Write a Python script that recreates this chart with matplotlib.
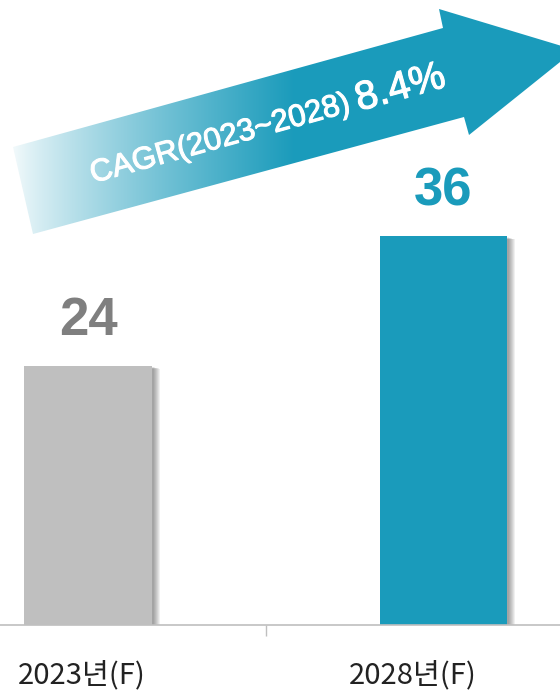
import numpy as np
import matplotlib
matplotlib.use("Agg")
import matplotlib.pyplot as plt
import matplotlib.transforms as mtransforms
import matplotlib.patheffects as pe
from matplotlib.patches import Polygon, Rectangle
from matplotlib.colors import to_rgb

# 데이터
anos = ["2023년(F)", "2028년(F)"]
valores = [24, 36]
cores = ["#bfbfbf", "#1a9bbb"]
cores_rotulo = ["#7f7f7f", "#1a9bbb"]
cagr_txt = "CAGR(2023~2028)"
cagr_val = "8.4%"

fig = plt.figure(figsize=(5.6, 6.92), dpi=100)
ax = fig.add_axes([0, 67 / 692, 1, 625 / 692])

x = np.arange(len(valores))
largura = 0.36

# sombra das barras
for i, v in enumerate(valores):
    for k in range(7):
        off = mtransforms.ScaledTranslation((2 + k) / 100, (-1 - k * 0.3) / 100, fig.dpi_scale_trans)
        r = Rectangle((x[i] - largura / 2, 0), largura, v, facecolor="black", alpha=0.06,
                      edgecolor="none", transform=ax.transData + off, zorder=1)
        ax.add_patch(r)

ax.bar(x, valores, width=largura, color=cores, zorder=2)

for i, v in enumerate(valores):
    ax.annotate(str(v), (x[i], v), xytext=(0, 14), textcoords="offset points",
                ha="center", va="bottom", fontsize=38, fontweight="bold",
                color=cores_rotulo[i], family="Liberation Sans")

ax.set_xlim(-0.2475, 1.3277)
ax.set_ylim(0, 57.9)
for s in ["top", "left", "right"]:
    ax.spines[s].set_visible(False)
ax.spines["bottom"].set_color("#bfbfbf")
ax.spines["bottom"].set_linewidth(1.2)
ax.set_yticks([])
ax.set_xticks([0.5])
ax.set_xticklabels([""])
ax.tick_params(axis="x", length=8, color="#bfbfbf", width=1)

# rótulos das categorias
desloc = [-6, -31]
for i, a in enumerate(anos):
    off = mtransforms.ScaledTranslation(desloc[i] / 100, -0.5, fig.dpi_scale_trans)
    ax.text(x[i], 0, a, transform=ax.get_xaxis_transform() + off, ha="center", va="center",
            fontsize=21, color="#222222", family=["Noto Sans CJK KR", "DejaVu Sans"])

# seta com gradiente
ov = fig.add_axes([0, 0, 1, 1], zorder=5)
ov.set_xlim(0, 560)
ov.set_ylim(692, 0)
ov.axis("off")
ov.patch.set_alpha(0)

pts = [(13, 147), (443, 28), (439, 9), (575, 50), (469, 135), (464, 117), (33, 234)]
seta = Polygon(pts, closed=True, facecolor="none", edgecolor="none")
ov.add_patch(seta)

base = np.array(to_rgb("#1a9bbb"))
xs = np.linspace(0, 560, 560)
t = np.clip((xs - 5) / 290, 0, 1) ** 0.8
grad = np.ones((1, 560, 3)) * (1 - t)[None, :, None] + base[None, None, :] * t[None, :, None]
img = ov.imshow(grad, extent=(0, 560, 692, 0), aspect="auto", zorder=3)
img.set_clip_path(seta)

engrossa = [pe.withStroke(linewidth=0.8, foreground="white")]
ov.text(93, 183, cagr_txt, rotation=15.5, rotation_mode="anchor", ha="left", va="baseline",
        fontsize=22.5, color="white", family="Liberation Sans", zorder=4, path_effects=engrossa)
ov.text(359, 111, cagr_val, rotation=15.5, rotation_mode="anchor", ha="left", va="baseline",
        fontsize=29, color="white", family="Liberation Sans", zorder=4, path_effects=engrossa)

fig.savefig("out.png", dpi=100)
